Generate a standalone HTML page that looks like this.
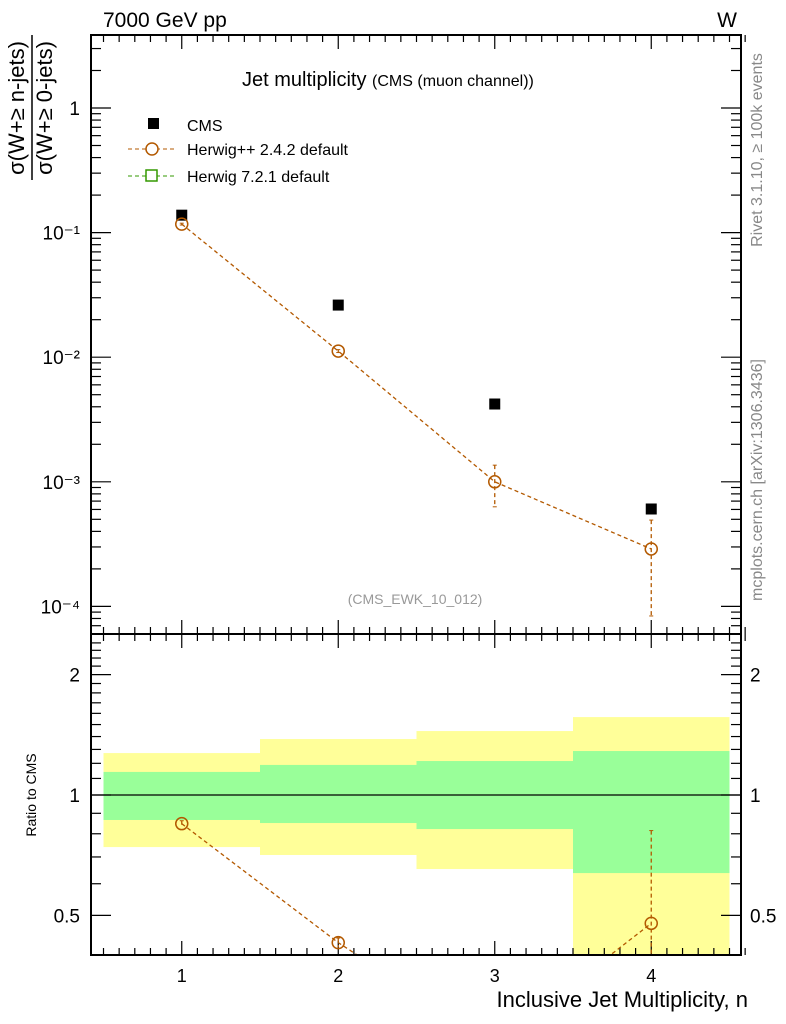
<!DOCTYPE html>
<html><head><meta charset="utf-8"><style>
html,body{margin:0;padding:0;background:#fff;overflow:hidden;width:786px;height:1024px}
svg{display:block;font-family:"Liberation Sans",sans-serif}
</style></head><body>
<svg id="c" width="786" height="1024" viewBox="0 0 786 1024" xmlns="http://www.w3.org/2000/svg">
<defs>
<clipPath id="cm"><rect x="91" y="35" width="650" height="599"/></clipPath>
<clipPath id="cr"><rect x="91" y="634" width="650" height="321"/></clipPath>
</defs>
<g id="bands" clip-path="url(#cr)"></g>
<g id="ticks"></g>
<g id="series"></g>
<rect x="91" y="35" width="650" height="599" fill="none" stroke="#000" stroke-width="2"/>
<rect x="91" y="634" width="650" height="321" fill="none" stroke="#000" stroke-width="2"/>
<text x="103" y="27" font-size="21">7000 GeV pp</text>
<text x="737" y="27" font-size="21" text-anchor="end">W</text>
<text x="242" y="86" font-size="20">Jet multiplicity <tspan font-size="16">(CMS (muon channel))</tspan></text>
<text x="415" y="604" font-size="14" fill="#999" text-anchor="middle">(CMS_EWK_10_012)</text>
<text transform="translate(762,150) rotate(-90)" font-size="16" fill="#888" text-anchor="middle">Rivet 3.1.10, ≥ 100k events</text>
<text transform="translate(762,480) rotate(-90)" font-size="16" fill="#888" text-anchor="middle">mcplots.cern.ch [arXiv:1306.3436]</text>
<g>
<text transform="translate(24,108) rotate(-90)" font-size="22" text-anchor="middle">σ(W+≥ n-jets)</text>
<line x1="32" y1="35" x2="32" y2="180" stroke="#000" stroke-width="1.5"/>
<text transform="translate(52,108) rotate(-90)" font-size="22" text-anchor="middle">σ(W+≥ 0-jets)</text>
</g>
<text transform="translate(36,795) rotate(-90)" font-size="14" text-anchor="middle">Ratio to CMS</text>
<text x="748" y="1007" font-size="22" text-anchor="end">Inclusive Jet Multiplicity, n</text>
<g>
<g><rect x="148" y="118" width="11" height="11" fill="#000"/><text x="187" y="131" font-size="16">CMS</text></g>
<g><line x1="128" y1="149" x2="175" y2="149" stroke="#b35900" stroke-dasharray="4,3"/><circle cx="152" cy="149" r="6" fill="#fff" stroke="#b35900" stroke-width="1.5"/><text x="187" y="155" font-size="16">Herwig++ 2.4.2 default</text></g>
<g><line x1="128" y1="176" x2="175" y2="176" stroke="#339900" stroke-dasharray="4,3"/><rect x="146" y="170" width="11" height="11" fill="#fff" stroke="#339900" stroke-width="1.5"/><text x="187" y="182" font-size="16">Herwig 7.2.1 default</text></g>
</g>
</svg>
<script>
const categories=[1,2,3,4];
const cmsValues=[0.138,0.0262,0.00421,0.000605];
const herwigValues=[0.117,0.0112,0.001,0.000289];
const herwigErrUp=[0.119,0.0115,0.00136,0.000493];
const herwigErrDn=[0.115,0.0109,0.00063,0.0000838];
const bandYellowHi=[1.273,1.38,1.445,1.566];
const bandYellowLo=[0.741,0.708,0.653,0.35];
const bandGreenHi=[1.142,1.189,1.216,1.288];
const bandGreenLo=[0.866,0.851,0.822,0.638];
const mainTickLabels=["1","10⁻¹","10⁻²","10⁻³","10⁻⁴"];
const ratioTickLabels=["2","1","0.5"];
const NS="http://www.w3.org/2000/svg";
const X=v=>103.5+(v-0.5)*156.5;
const Y=v=>108-Math.log10(v)*124.6;
const R=v=>795-Math.log10(v)*400;
function mk(tag,at,parent){const e=document.createElementNS(NS,tag);for(const k in at)e.setAttribute(k,at[k]);parent.appendChild(e);return e;}
const bands=document.getElementById('bands'),ticks=document.getElementById('ticks'),ser=document.getElementById('series');
categories.forEach((c,i)=>{
 const y=mk('rect',{x:X(c-0.5),y:R(bandYellowHi[i]),width:156.5,height:R(bandYellowLo[i])-R(bandYellowHi[i]),fill:'#ffff99'},bands);
 
 
 const g=mk('rect',{x:X(c-0.5),y:R(bandGreenHi[i]),width:156.5,height:R(bandGreenLo[i])-R(bandGreenHi[i]),fill:'#99ff99'},bands);
 
 
});
mk('line',{x1:91,x2:741,y1:R(1),y2:R(1),stroke:'#000','stroke-width':1.3},ticks);
for(let v=0.5;v<=4.6;v+=0.1){const major=Math.abs(v-Math.round(v))<0.01;const L=major?14:7;
 [[35,1],[634,-1],[634,1],[955,-1]].forEach(([y0,d])=>mk('line',{x1:X(v),x2:X(v),y1:y0,y2:y0+d*L,stroke:'#000','stroke-width':1.2},ticks));}
categories.forEach(c=>{const t=mk('text',{x:X(c),y:982,'font-size':18,'text-anchor':'middle'},ticks);t.textContent=c;
 
 });
for(let d=-5;d<=0;d++)for(let m=1;m<10;m++){const v=m*Math.pow(10,d);const y=Y(v);if(y<36||y>633)continue;const L=m==1?20:10;
 mk('line',{x1:91,x2:91+L,y1:y,y2:y,stroke:'#000','stroke-width':1.2},ticks);mk('line',{x1:741,x2:741-L,y1:y,y2:y,stroke:'#000','stroke-width':1.2},ticks);}
mainTickLabels.forEach((l,i)=>{const t=mk('text',{x:80,y:Y(Math.pow(10,-i))+7,'font-size':19,'text-anchor':'end'},ticks);t.textContent=l;
 
 });
for(let v=0.4;v<=2.5;v+=0.1){const y=R(v);if(y<635||y>954)continue;const mj=[0.5,1,2].some(a=>Math.abs(a-v)<0.01);const L=mj?20:10;
 mk('line',{x1:91,x2:91+L,y1:y,y2:y,stroke:'#000','stroke-width':1.2},ticks);mk('line',{x1:741,x2:741-L,y1:y,y2:y,stroke:'#000','stroke-width':1.2},ticks);}
ratioTickLabels.forEach(l=>{const v=parseFloat(l);
 const a=mk('text',{x:80,y:R(v)+7,'font-size':19,'text-anchor':'end'},ticks);a.textContent=l;
 
 
 const b=mk('text',{x:750,y:R(v)+7,'font-size':19},ticks);b.textContent=l;
 
 });
const col='#b35900';
const gm=mk('g',{'clip-path':'url(#cm)'},ser);
mk('polyline',{points:categories.map((c,i)=>X(c)+','+Y(herwigValues[i])).join(' '),fill:'none',stroke:col,'stroke-width':1.3,'stroke-dasharray':'4,3'},gm);
categories.forEach((c,i)=>{
 mk('line',{x1:X(c),x2:X(c),y1:Y(herwigErrUp[i]),y2:Y(herwigErrDn[i]),stroke:col,'stroke-width':1.3,'stroke-dasharray':'4,3'},gm);
 mk('line',{x1:X(c)-2,x2:X(c)+2,y1:Y(herwigErrUp[i]),y2:Y(herwigErrUp[i]),stroke:col},gm);
 mk('line',{x1:X(c)-2,x2:X(c)+2,y1:Y(herwigErrDn[i]),y2:Y(herwigErrDn[i]),stroke:col},gm);
 const s=mk('rect',{x:X(c)-5.5,y:Y(cmsValues[i])-5.5,width:11,height:11,fill:'#000'},gm);
 
 
 const p=mk('circle',{cx:X(c),cy:Y(herwigValues[i]),r:6,fill:'#fff','fill-opacity':0,stroke:col,'stroke-width':1.5},gm);
 
 
});
const gr=mk('g',{'clip-path':'url(#cr)'},ser);
const rat=categories.map((c,i)=>herwigValues[i]/cmsValues[i]);
mk('polyline',{points:categories.map((c,i)=>X(c)+','+R(rat[i])).join(' '),fill:'none',stroke:col,'stroke-width':1.3,'stroke-dasharray':'4,3'},gr);
categories.forEach((c,i)=>{
 const u=herwigErrUp[i]/cmsValues[i],d=herwigErrDn[i]/cmsValues[i];
 mk('line',{x1:X(c),x2:X(c),y1:R(u),y2:R(d),stroke:col,'stroke-width':1.3,'stroke-dasharray':'4,3'},gr);
 mk('line',{x1:X(c)-2,x2:X(c)+2,y1:R(u),y2:R(u),stroke:col},gr);
 const p=mk('circle',{cx:X(c),cy:R(rat[i]),r:6,fill:'none',stroke:col,'stroke-width':1.5},gr);
 
 
});
</script>
</body></html>
